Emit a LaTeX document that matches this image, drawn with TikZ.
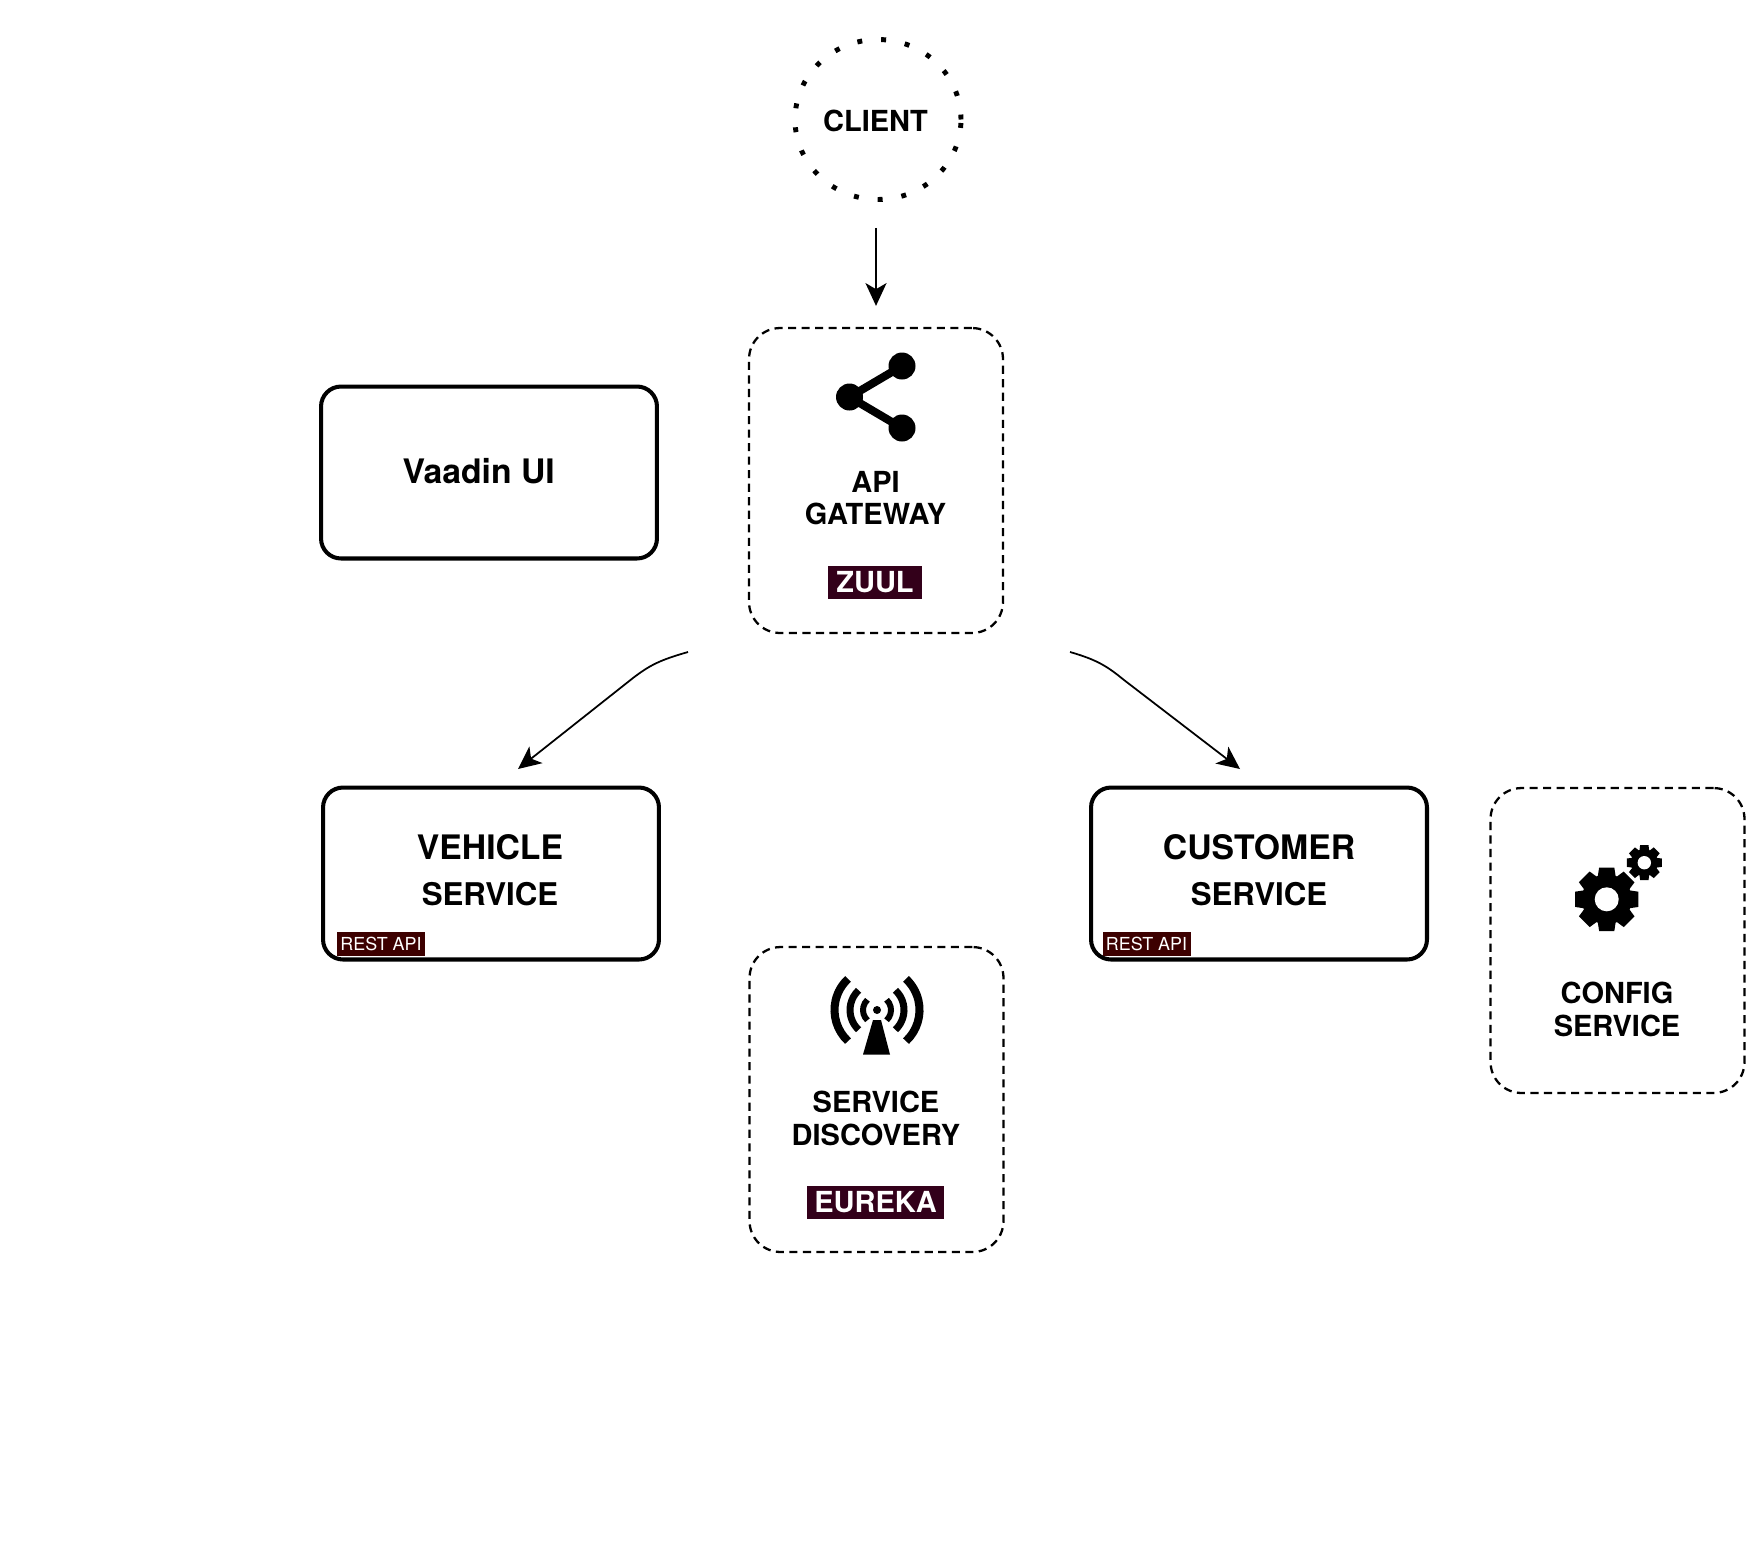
\documentclass[tikz,border=0pt]{standalone}
\usepackage{fontspec}
\setmainfont{TeX Gyre Heros}
\usetikzlibrary{calc}
\usetikzlibrary{arrows.meta}
\usetikzlibrary{shapes.geometric}
\definecolor{tagplum}{HTML}{33001A}
\definecolor{tagmaroon}{HTML}{3D0000}
\newcommand{\secondline}{\fontsize{17.8}{26.2}\selectfont}
\tikzset{
  dashbox/.style={draw,line width=1.3pt,rounded corners=0.62cm,dash pattern=on 4.6pt off 3.1pt,minimum width=5.08cm,minimum height=6.1cm,inner sep=0},
  solidbox/.style={draw,line width=2.3pt,rounded corners=0.4cm,minimum width=6.72cm,minimum height=3.44cm,inner sep=0},
  clientring/.style={draw,ellipse,line width=2.8pt,dash pattern=on 2.8pt off 10.85pt,minimum width=3.32cm,minimum height=3.2cm,inner sep=0},
  smalltitle/.style={align=center,inner sep=0,font=\fontsize{16.5}{18.5}\selectfont\bfseries},
  bigtitle/.style={align=center,inner sep=0,font=\fontsize{19.2}{26.2}\selectfont\bfseries},
  plumtag/.style={fill=tagplum,text=white,inner sep=0,minimum height=0.66cm,font=\fontsize{16.5}{18}\selectfont\bfseries},
  resttag/.style={fill=tagmaroon,text=white,inner sep=0,minimum width=1.76cm,minimum height=0.47cm,font=\fontsize{10.2}{12}\selectfont},
  flow/.style={-{Stealth[length=13pt,width=12pt,inset=3.5pt]},line width=1pt},
}
% roue dentee : centre, rayon dents, rayon base, rayon trou
\newcommand{\gearicon}[4]{
  \fill (#1) circle (#3);
  \foreach \a in {0,45,...,315}{
    \fill[shift={(#1)},rotate=\a] (-#3*0.36,#3*0.9) -- (-#2*0.24,#2) -- (#2*0.24,#2) -- (#3*0.36,#3*0.9) -- cycle;
  }
  \fill[white] (#1) circle (#4);
}
\begin{document}
\begin{tikzpicture}[x=0.02cm,y=-0.02cm]
  \useasboundingbox (0,0) rectangle (1760,1542);

  % Client
  \node[clientring] (client) at (878,119.5) {};
  \node[smalltitle] (clienttext) at (875.5,121) {CLIENT};

  % Gateway
  \node[dashbox] (gateway) at (876,480.5) {};
  \node[smalltitle] (gatewaytext) at (875.5,498.3) {API\\GATEWAY};
  \node[plumtag,minimum width=1.88cm] (zuul) at (875,582) {ZUUL};
  \coordinate (share) at (849.5,397);
  \coordinate (shareup) at (902,366);
  \coordinate (sharedown) at (902,428);
  \draw[line width=4.6pt] (shareup) -- (share) -- (sharedown);
  \fill (share) circle (13.5);
  \fill (shareup) circle (13.5);
  \fill (sharedown) circle (13.5);

  % Vaadin
  \node[solidbox] (vaadin) at (489,472.5) {};
  \node[bigtitle] (vaadintext) at (478.7,471) {Vaadin UI};

  % Vehicle
  \node[solidbox] (vehicle) at (491,873.5) {};
  \node[bigtitle] (vehicletext) at (490,870) {VEHICLE\\{\secondline SERVICE}};
  \node[resttag] (vehiclerest) at (381,944) {REST API};

  % Customer
  \node[solidbox] (customer) at (1259,873.5) {};
  \node[bigtitle] (customertext) at (1259,870) {CUSTOMER\\{\secondline SERVICE}};
  \node[resttag] (customerrest) at (1146.5,944) {REST API};

  % Discovery
  \node[dashbox] (discovery) at (876.5,1099.5) {};
  \node[smalltitle] (discoverytext) at (876,1118.5) {SERVICE\\DISCOVERY};
  \node[plumtag,minimum width=2.74cm] (eureka) at (875.5,1202.5) {EUREKA};
  \coordinate (mast) at (877,1010);
  \fill (mast) circle (4);
  \fill (873,1020) -- (881,1020) -- (890,1054.5) -- (863,1054.5) -- cycle;
  \foreach \r/\w in {14/3.4pt,27/4pt,42.5/4.6pt}{
    \draw[line width=\w] ($(mast)+(133:\r)$) arc (133:227:\r);
    \draw[line width=\w] ($(mast)+(47:\r)$) arc (47:-47:\r);
  }

  % Config
  \node[dashbox] (config) at (1617.5,940.5) {};
  \node[smalltitle] (configtext) at (1617,1009.5) {CONFIG\\SERVICE};
  \coordinate (biggear) at (1606.7,899.3);
  \coordinate (smallgear) at (1644.3,862.7);
  \gearicon{biggear}{31.7}{25}{12}
  \gearicon{smallgear}{17.5}{13.5}{6.7}

  % Fleches
  \coordinate (gateleft) at (688,652);
  \coordinate (gateright) at (1070,652);
  \coordinate (vehicletip) at (518,769);
  \coordinate (customertip) at (1240,769);
  \draw[flow,shorten <=0.52cm,shorten >=0.42cm] (gateway.north |- client.south) -- (gateway.north);
  \draw[flow] (gateleft) .. controls (660,660) and (650,665) .. (633,678) -- (vehicletip);
  \draw[flow] (gateright) .. controls (1098,660) and (1108,667) .. (1124,680) -- (customertip);
\end{tikzpicture}
\end{document}
